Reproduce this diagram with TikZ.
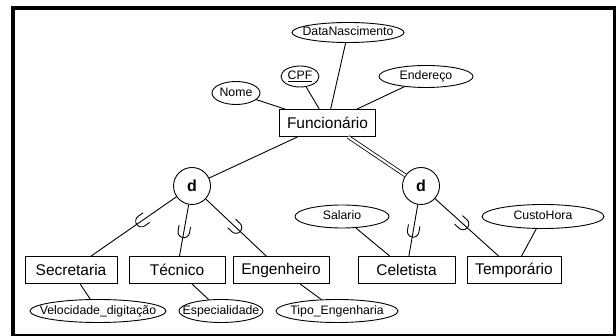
\documentclass[tikz,border=0pt]{standalone}
\usepackage{fontspec}
\setmainfont{Liberation Sans}
\usetikzlibrary{shapes.geometric}
\begin{document}
\begin{tikzpicture}[x=1pt,y=-1pt, line width=0.9pt,
  entity/.style={draw, rectangle, minimum width=96, minimum height=27, inner sep=0pt, font=\fontsize{15.5}{18}\selectfont},
  attr/.style={draw, ellipse, inner sep=-40pt, font=\fontsize{12.3}{14}\selectfont, text height=8.8pt, text depth=2.6pt},
  disj/.style={draw, circle, minimum size=37, inner sep=0pt, font=\bfseries\fontsize{16}{18}\selectfont},
  cup/.pic={\draw[line width=0.9pt] (-6pt,5.8pt) -- (0pt,5.8pt) arc[start angle=90, end angle=-90, radius=5.8pt] -- (-6pt,-5.8pt);},
  dbl/.style={double, double distance=2.2pt, line width=0.8pt}]
\useasboundingbox (0,0) rectangle (616,336);
\draw[line width=3.8pt] (13,8) rectangle (614.5,335.8);

% entities
\node[entity] (func) at (327.5,123) {Funcionário};
\node[entity, minimum width=92] (sec) at (71,270) {Secretaria};
\node[entity] (tec) at (177,270) {Técnico};
\node[entity] (eng) at (281,270) {Engenheiro};
\node[entity, minimum width=97] (cel) at (406.5,270) {Celetista};
\node[entity, minimum width=94] (tem) at (514,270) {Temporário};

% disjointness circles
\node[disj] (d1) at (192,186) {d};
\node[disj] (d2) at (421,186) {d};

% attributes
\node[attr, minimum width=112, minimum height=20] (data) at (348,32.5) {DataNascimento};
\node[attr, minimum width=38, minimum height=21] (cpf) at (300,76.5) {\underline{CPF}};
\node[attr, minimum width=48, minimum height=23] (nome) at (236,93) {Nome};
\node[attr, minimum width=94, minimum height=22] (ender) at (426,76.5) {Endereço};
\node[attr, minimum width=94, minimum height=23] (sal) at (342,216.5) {Salario};
\node[attr, minimum width=122, minimum height=24] (custo) at (543,216.5) {CustoHora};
\node[attr, minimum width=136, minimum height=23] (vel) at (98,311) {Velocidade\_digitação};
\node[attr, minimum width=84, minimum height=23] (esp) at (221,311) {Especialidade};
\node[attr, minimum width=122, minimum height=23] (tipo) at (337,311) {Tipo\_Engenharia};

% attribute links
\draw (nome) -- (func);
\draw (cpf) -- (func);
\draw (data) -- (func);
\draw (ender) -- (func);
\draw (sal) -- (cel);
\draw (custo) -- (tem);
\draw (sec) -- (vel);
\draw (tec) -- (esp);
\draw (eng) -- (tipo);

% specialization
\draw (func) -- (d1);
\draw[dbl] (func) -- (d2);
\draw (d1) -- pic[pos=0.41, sloped, allow upside down]{cup} (sec);
\draw (d1) -- pic[pos=0.53, sloped, allow upside down]{cup} (tec);
\draw (d1) -- pic[pos=0.5, sloped, allow upside down]{cup} (eng);
\draw (d2) -- pic[pos=0.52, sloped, allow upside down]{cup} (cel);
\draw (d2) -- pic[pos=0.44, sloped, allow upside down]{cup} (tem);
\end{tikzpicture}
\end{document}
